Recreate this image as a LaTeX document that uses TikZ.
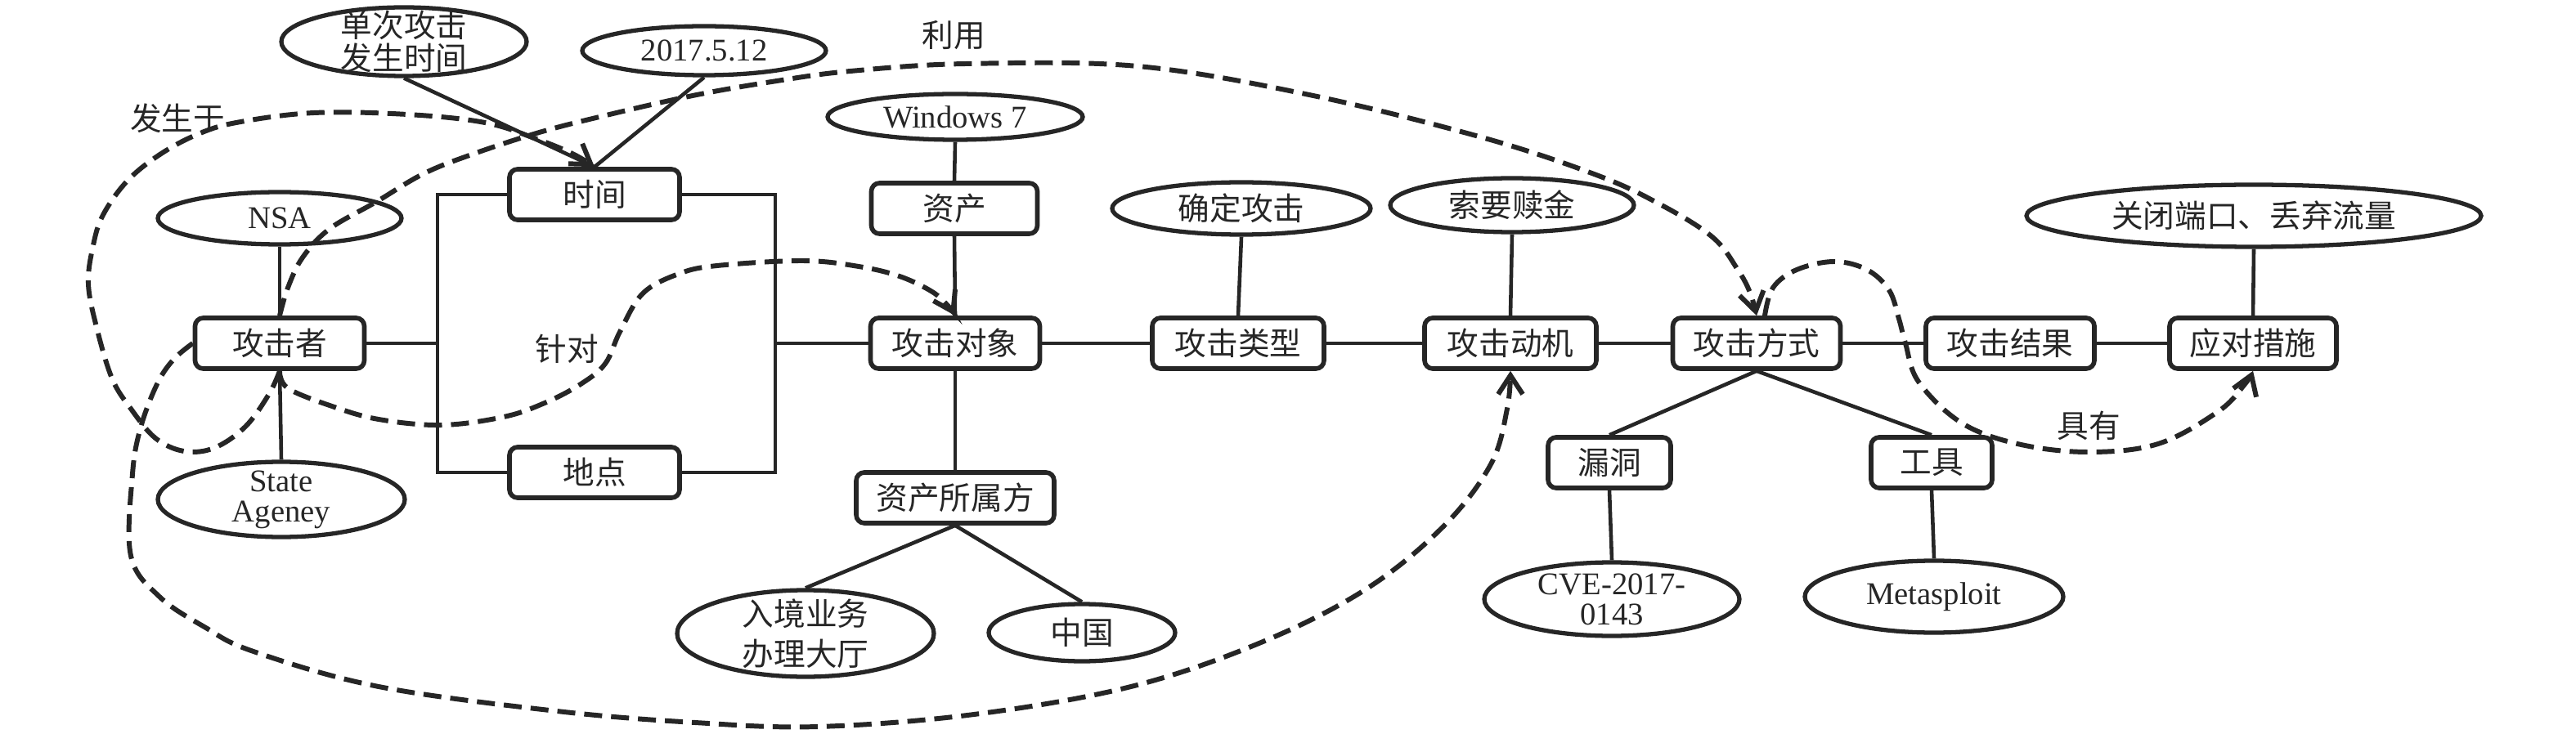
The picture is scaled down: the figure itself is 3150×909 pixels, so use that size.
\documentclass[tikz,border=0pt]{standalone}
\usepackage{fontspec}
\setmainfont{Liberation Serif}
\newfontfamily\cjk{Noto Sans CJK SC}
\usetikzlibrary{shapes.geometric,arrows.meta}
\definecolor{ink}{RGB}{38,38,38}
\begin{document}
\begin{tikzpicture}[x=0.1mm,y=-0.1mm,
  txt/.style={font=\fontsize{11pt}{12pt}\selectfont, text=ink, inner sep=0pt, align=center},
  ctxt/.style={font=\fontsize{11pt}{13pt}\selectfont\cjk, text=ink, inner sep=0pt, align=center},
  box/.style={ctxt, draw=ink, line width=1.6pt, rounded corners=1mm, minimum height=6.2mm},
  ell/.style={draw=ink, ellipse, line width=1.5pt, inner sep=0pt},
  conn/.style={draw=ink, line width=1.3pt},
  rel/.style={draw=ink, line width=1.7pt, dash pattern=on 2.2mm off 1.1mm,
    -{Straight Barb[length=2.3mm,width=3mm]}}
]
\useasboundingbox (0,0) rectangle (3150,909);

% ---------- boxes ----------
\node[box, minimum width=20.7mm] (att) at (342,420) {攻击者};
\node[box, minimum width=20.8mm] (time) at (727,238) {时间};
\node[box, minimum width=20.8mm] (place) at (727,578) {地点};
\node[box, minimum width=20.7mm] (obj) at (1168,420) {攻击对象};
\node[box, minimum width=20.3mm] (asset) at (1167,255) {资产};
\node[box, minimum width=24.2mm] (owner) at (1168,609) {资产所属方};
\node[box, minimum width=21mm] (type) at (1514,420) {攻击类型};
\node[box, minimum width=21mm] (motive) at (1847,420) {攻击动机};
\node[box, minimum width=20.5mm] (method) at (2148,420) {攻击方式};
\node[box, minimum width=20.6mm] (result) at (2458,420) {攻击结果};
\node[box, minimum width=20.4mm] (measure) at (2755,420) {应对措施};
\node[box, minimum width=15mm] (vuln) at (1968,566) {漏洞};
\node[box, minimum width=14.8mm] (tool) at (2362,566) {工具};

% ---------- ellipses ----------
\node[ell, minimum width=30mm, minimum height=8.4mm] (esingle) at (494,51) {};
\node[ctxt, font=\fontsize{11pt}{11.5pt}\selectfont\cjk] (tsingle) at (esingle.center) {单次攻击\\发生时间};
\node[ell, minimum width=29.8mm, minimum height=6mm] (edate) at (861,62) {};
\node[txt] (tdate) at (edate.center) {2017.5.12};
\node[ell, minimum width=29.8mm, minimum height=6.4mm] (ensa) at (342,267) {};
\node[txt] (tnsa) at (ensa.center) {NSA};
\node[ell, minimum width=30.2mm, minimum height=9.2mm] (estate) at (344,611) {};
\node[txt, font=\fontsize{11pt}{10.5pt}\selectfont] (tstate) at (estate.center) {State\\Ageney};
\node[ell, minimum width=31.2mm, minimum height=5.6mm] (ewin) at (1168,143) {};
\node[txt] (twin) at (ewin.center) {Windows 7};
\node[ell, minimum width=31.4mm, minimum height=10.6mm] (ehall) at (985,775) {};
\node[ctxt, font=\fontsize{11pt}{14pt}\selectfont\cjk] (thall) at (ehall.center) {入境业务\\办理大厅};
\node[ell, minimum width=22.8mm, minimum height=7mm] (ecn) at (1323,774) {};
\node[ctxt] (tcn) at (ecn.center) {中国};
\node[ell, minimum width=31.6mm, minimum height=6.4mm] (econfirm) at (1518,255) {};
\node[ctxt] (tconfirm) at (econfirm.center) {确定攻击};
\node[ell, minimum width=29.8mm, minimum height=6.6mm] (eransom) at (1849,251) {};
\node[ctxt] (transom) at (eransom.center) {索要赎金};
\node[ell, minimum width=55.6mm, minimum height=7.6mm] (eclose) at (2756,264) {};
\node[ctxt] (tclose) at (eclose.center) {关闭端口、丢弃流量};
\node[ell, minimum width=31.2mm, minimum height=9mm] (ecve) at (1971,733) {};
\node[txt, font=\fontsize{11pt}{10.5pt}\selectfont] (tcve) at (ecve.center) {CVE-2017-\\0143};
\node[ell, minimum width=31.6mm, minimum height=8.8mm] (emeta) at (2365,730) {};
\node[txt] (tmeta) at (emeta.center) {Metasploit};

% ---------- relation labels ----------
\node[ctxt] (loccur) at (217,145) {发生于};
\node[ctxt] (luse) at (1166,43) {利用};
\node[ctxt] (ltarget) at (693,427) {针对};
\node[ctxt] (lhave) at (2554,521) {具有};

% ---------- solid connectors ----------
\coordinate (bl) at (535,420);
\coordinate (br) at (948,420);
\draw[conn] (ensa.south) -- (att.north);
\draw[conn] (att.south) -- (estate.north);
\draw[conn] (att.east) -- (bl);
\draw[conn] (time.west) -| (bl) |- (place.west);
\draw[conn] (time.east) -| (br) |- (place.east);
\draw[conn] (br) -- (obj.west);
\draw[conn] (esingle.south) -- (time.north);
\draw[conn] (edate.south) -- (time.north);
\draw[conn] (ewin.south) -- (asset.north);
\draw[conn] (asset.south) -- (obj.north);
\draw[conn] (obj.south) -- (owner.north);
\draw[conn] (owner.south) -- (ehall.north);
\draw[conn] (owner.south) -- (ecn.north);
\draw[conn] (obj.east) -- (type.west);
\draw[conn] (type.east) -- (motive.west);
\draw[conn] (motive.east) -- (method.west);
\draw[conn] (method.east) -- (result.west);
\draw[conn] (result.east) -- (measure.west);
\draw[conn] (econfirm.south) -- (type.north);
\draw[conn] (eransom.south) -- (motive.north);
\draw[conn] (eclose.south) -- (measure.north);
\draw[conn] (method.south) -- (vuln.north);
\draw[conn] (method.south) -- (tool.north);
\draw[conn] (vuln.south) -- (ecve.north);
\draw[conn] (tool.south) -- (emeta.north);

% ---------- dashed relations ----------
% 发生于
\draw[rel] plot[smooth, tension=0.6] coordinates {(att.south) (329,482) (300,522) (262,548) (225,552) (190,536) (160,500) (137,463) (118,400) (108,347) (114,300) (126,263) (155,222) (194,190) (240,165) (289,150) (384,138) (498,140) (593,150) (656,170) (700,188) (time.north)};
% 攻击者 -> 攻击动机 (bottom loop)
\draw[rel] plot[smooth, tension=0.6] coordinates {(att.west) (212,440) (192,470) (172,523) (162,580) (160,680) (195,730) (250,767) (310,797) (463,840) (681,870) (850,884) (1000,889) (1191,874) (1383,840) (1542,786) (1670,721) (1765,644) (1823,568) (1843,500) (motive.south)};
% 利用
\draw[rel] plot[smooth, tension=0.6] coordinates {(att.north) (352,352) (370,315) (403,280) (460,247) (517,213) (574,190) (656,163) (733,143) (847,117) (950,99) (1040,87) (1181,78) (1391,81) (1601,116) (1812,168) (1952,214) (2030,250) (2094,290) (2125,330) (2140,358) (method.north)};
% 针对
\draw[rel] plot[smooth, tension=0.6] coordinates {(att.south) (352,475) (406,497) (463,513) (540,520) (616,510) (666,493) (710,470) (740,445) (758,406) (786,359) (830,335) (877,325) (982,319) (1050,326) (1100,338) (1140,357) (1160,375) (obj.north)};
% 具有
\draw[rel] plot[smooth, tension=0.6] coordinates {([xshift=1mm]method.north) (2168,352) (2197,330) (2243,320) (2283,330) (2310,355) (2322,390) (2330,420) (2346,467) (2398,517) (2467,543) (2553,553) (2639,543) (2713,503) (2745,470) (measure.south)};
\end{tikzpicture}
\end{document}
